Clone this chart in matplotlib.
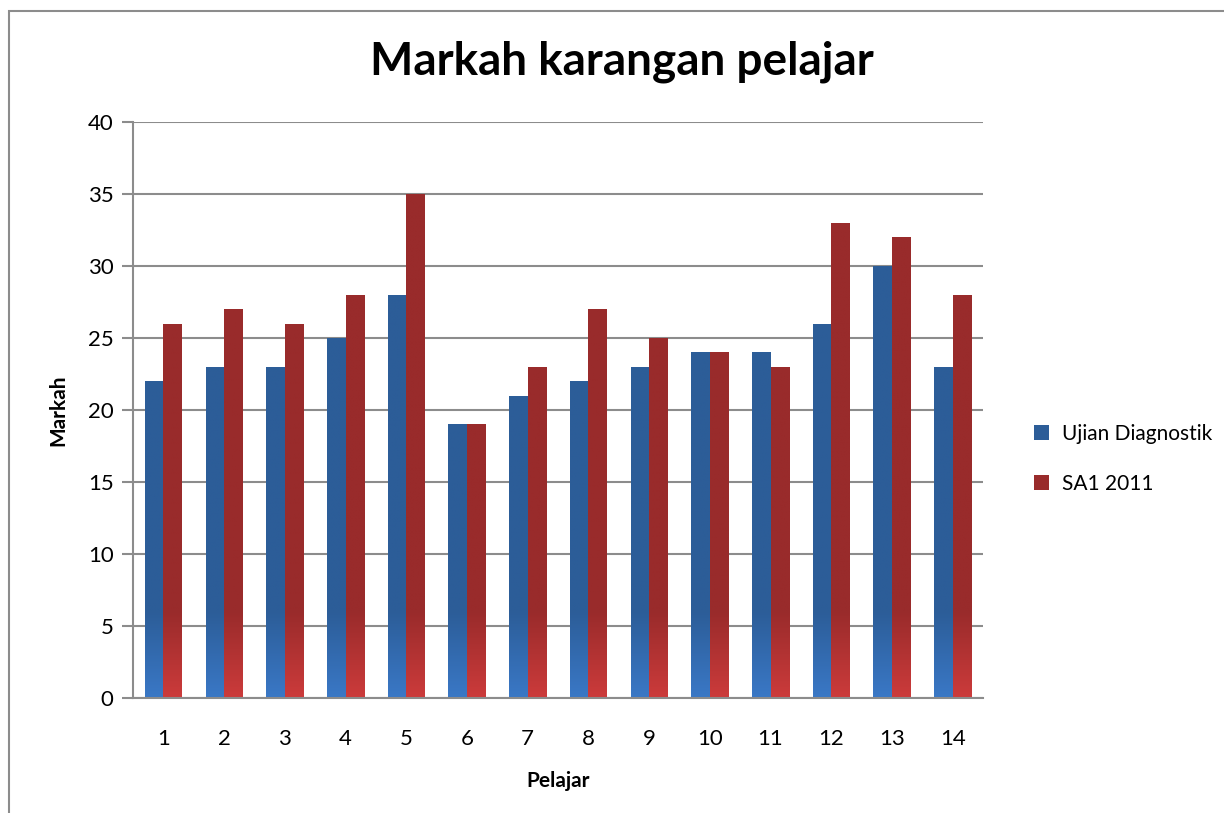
import numpy as np
import matplotlib
matplotlib.use("Agg")
import matplotlib.pyplot as plt
from matplotlib.colors import LinearSegmentedColormap
from matplotlib.patches import Rectangle, Patch

categories = [str(i) for i in range(1, 15)]
ujian = [22, 23, 23, 25, 28, 19, 21, 22, 23, 24, 24, 26, 30, 23]
sa1 = [26, 27, 26, 28, 35, 19, 23, 27, 25, 24, 23, 33, 32, 28]
series_names = ["Ujian Diagnostik", "SA1 2011"]
yticks = [0, 5, 10, 15, 20, 25, 30, 35, 40]

plt.rcParams['font.family'] = ['Lato', 'DejaVu Sans']

W, H = 1224, 813
fig = plt.figure(figsize=(W / 100, H / 100), dpi=100)
fig.patches.append(Rectangle((9 / W, -0.1), 1.2, 1 - 11 / H + 0.1, transform=fig.transFigure,
                             fill=False, edgecolor='#8c8c8c', linewidth=1.5))

ax = fig.add_axes([133 / W, 1 - 698 / H, (983 - 133) / W, (698 - 122) / H])
x = np.arange(len(categories))
bw = 0.305

blue_top, blue_bot = '#2C5D98', '#3A78C6'
red_top, red_bot = '#992B2B', '#CC3B3B'

def grad_bars(xs, vals, ctop, cbot):
    bars = ax.bar(xs, vals, width=bw, facecolor='none', edgecolor='none', linewidth=0, zorder=2)
    cmap = LinearSegmentedColormap.from_list('g', [cbot, ctop])
    for b in bars:
        x0 = b.get_x()
        h = b.get_height()
        yy = np.linspace(0, h, 400)
        t = np.clip(yy / 6.0, 0, 1).reshape(-1, 1)
        im = ax.imshow(t, extent=[x0, x0 + b.get_width(), 0, h], origin='lower',
                       aspect='auto', cmap=cmap, vmin=0, vmax=1, zorder=2.5,
                       interpolation='bilinear')
        im.set_clip_path(b)
    return bars

grad_bars(x - bw / 2, ujian, blue_top, blue_bot)
grad_bars(x + bw / 2, sa1, red_top, red_bot)

ax.set_xlim(-0.5, len(categories) - 0.5)
ax.set_ylim(0, 40)
ax.set_yticks(yticks)
ax.set_xticks(x)
ax.set_xticklabels(categories)
ax.yaxis.grid(True, color='#8c8c8c', linewidth=1.5, zorder=0)
ax.set_axisbelow(True)
for s in ['top', 'right']:
    ax.spines[s].set_visible(False)
ax.spines['left'].set_color('#8c8c8c')
ax.spines['bottom'].set_color('#8c8c8c')
ax.spines['left'].set_linewidth(1.5)
ax.spines['bottom'].set_linewidth(1.5)
ax.tick_params(axis='y', length=8, width=1.5, color='#8c8c8c', labelsize=16, pad=6)
ax.tick_params(axis='x', length=0, labelsize=16, pad=22)

ax.set_ylabel('Markah', fontsize=15, fontweight='bold', labelpad=14)
ax.set_xlabel('Pelajar', fontsize=15, fontweight='bold', labelpad=16)
fig.text(622 / W, 1 - 62 / H, 'Markah karangan pelajar', ha='center', va='center',
         fontsize=33, fontweight='bold')

handles = [Patch(facecolor=blue_top), Patch(facecolor=red_top)]
leg = fig.legend(handles, series_names, loc='center left', bbox_to_anchor=(1015 / W, 1 - 459 / H),
                 frameon=False, fontsize=15, handlelength=0.75, handleheight=0.75,
                 labelspacing=1.45, handletextpad=0.6)

fig.savefig('out.png', dpi=100)
